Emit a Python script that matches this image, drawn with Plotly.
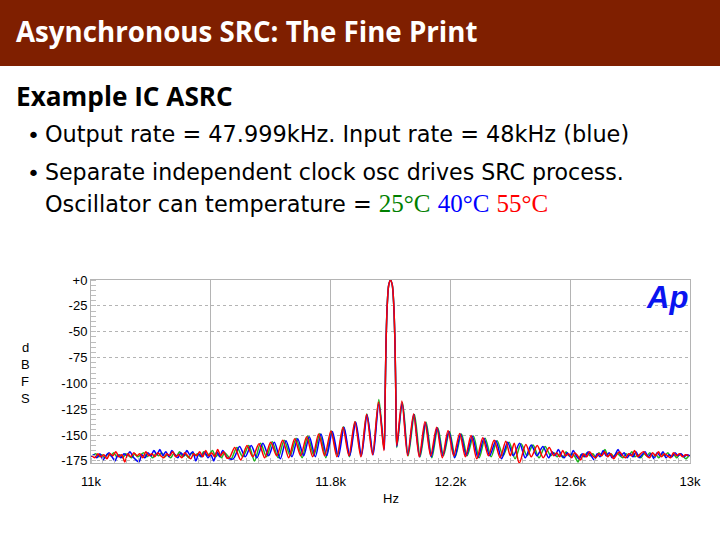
import plotly.graph_objects as go

# ---------------- data ----------------
BLUE_F = [11000, 11010, 11020, 11030, 11040, 11050, 11060, 11070, 11080, 11090,
          11100, 11110, 11120, 11130, 11140, 11150, 11160, 11170, 11180, 11190,
          11200, 11210, 11220, 11230, 11240, 11250, 11260, 11270, 11280, 11290,
          11300, 11310, 11320, 11330, 11340, 11350, 11360, 11370, 11380, 11390,
          11400, 11410, 11420, 11430, 11440, 11455,
          11475, 11496, 11515, 11535, 11554, 11574, 11593, 11612, 11632, 11651,
          11671, 11690, 11710, 11729, 11749, 11768, 11787, 11806, 11826, 11845,
          11864, 11884, 11903, 11922, 11942, 11961, 11979,
          11982, 11985, 11989, 11994, 12000, 12006, 12011, 12015, 12018, 12021,
          12039, 12058, 12078, 12097, 12117, 12136, 12156, 12175, 12195, 12214,
          12234, 12253, 12273, 12292, 12312, 12331, 12352, 12371, 12391, 12410,
          12431, 12450, 12470, 12489, 12509, 12528,
          12540, 12550, 12560, 12570, 12580, 12590, 12600, 12610, 12620, 12630,
          12640, 12650, 12660, 12670, 12680, 12690, 12700, 12710, 12720, 12730,
          12740, 12750, 12760, 12770, 12780, 12790, 12800, 12810, 12820, 12830,
          12840, 12850, 12860, 12870, 12880, 12890, 12900, 12910, 12920, 12930,
          12940, 12950, 12960, 12970, 12980, 12990, 13000]
BLUE_DB = [-171, -169, -172, -168, -174, -170, -167, -171, -175, -169,
           -172, -168, -170, -166, -171, -174, -176, -169, -172, -167,
           -170, -165, -169, -164, -170, -166, -171, -165, -169, -172,
           -167, -170, -165, -169, -166, -175, -168, -171, -166, -172,
           -169, -175, -166, -171, -165, -172,
           -173, -161, -171, -160, -172, -158, -170, -157, -173, -155.5,
           -171, -153.5, -170, -151.5, -171, -149, -170, -146.5, -171, -142.5,
           -170, -137.5, -170, -130.5, -169, -120, -164,
           -115, -62, -25, -5, 0, -5, -25, -62, -115, -161,
           -119, -169, -130, -171, -138, -171, -143, -170, -146.5, -172,
           -149, -170, -151, -172, -153, -170, -155.5, -173, -157, -170,
           -158, -172, -159.5, -170, -161, -172,
           -166, -170, -164, -169, -172, -167, -171, -165, -170, -173,
           -168, -171, -166, -170, -174, -168, -171, -165, -170, -167,
           -172, -169, -164, -170, -167, -172, -168, -171, -166, -172,
           -169, -166, -171, -168, -173, -167, -170, -166, -172, -169,
           -171, -167, -170, -168, -171, -169, -170]

RED_F = [11003, 11013, 11023, 11033, 11043, 11053, 11063, 11073, 11083, 11093,
         11103, 11113, 11123, 11133, 11143, 11153, 11163, 11173, 11183, 11193,
         11203, 11213, 11223, 11233, 11243, 11253, 11263, 11273, 11283, 11293,
         11303, 11313, 11323, 11333, 11343, 11353, 11363, 11373, 11383, 11393,
         11403, 11413, 11423, 11433, 11443, 11453,
         11462, 11480, 11500, 11521, 11540, 11561, 11580, 11600, 11620, 11640,
         11660, 11680, 11700, 11720, 11740, 11760, 11780, 11801, 11821, 11841,
         11861, 11881, 11901, 11920, 11940, 11960, 11978,
         11982, 11985, 11989, 11994, 12000, 12006, 12011, 12015, 12018, 12021,
         12038, 12057, 12077, 12096, 12115, 12134, 12154, 12173, 12192, 12211,
         12231, 12250, 12269, 12288, 12308, 12327, 12346, 12366, 12385, 12400,
         12413, 12430, 12452, 12470, 12490, 12510, 12530,
         12545, 12555, 12565, 12575, 12585, 12595, 12605, 12615, 12625, 12635,
         12645, 12655, 12665, 12675, 12685, 12695, 12705, 12715, 12725, 12735,
         12745, 12755, 12765, 12775, 12785, 12795, 12805, 12815, 12825, 12835,
         12845, 12855, 12865, 12875, 12885, 12895, 12905, 12915, 12925, 12935,
         12945, 12955, 12965, 12975, 12985, 12995]
RED_DB = [-170, -172, -168, -171, -169, -173, -168, -170, -166, -171,
          -169, -176, -168, -171, -167, -170, -168, -172, -166, -170,
          -168, -171, -167, -170, -172, -168, -170, -166, -171, -169,
          -172, -167, -170, -173, -168, -170, -166, -171, -165, -170,
          -167, -171, -164, -170, -166, -172,
          -172, -162, -174, -160, -171, -158.5, -172, -157, -170, -155,
          -172, -153.5, -170, -151.5, -171, -149, -170, -146, -171, -142.5,
          -170, -137, -171, -130, -169, -118, -165,
          -115, -62, -25, -5, 0, -5, -25, -62, -115, -160,
          -117, -170, -129.5, -171, -137, -170, -142.5, -172, -145.5, -170,
          -148.5, -171, -150.5, -173, -152.5, -170, -155, -172, -156, -170,
          -158, -177, -159, -171, -160, -172, -162,
          -170, -167, -171, -165, -170, -168, -172, -167, -170, -174,
          -168, -171, -166, -170, -172, -168, -170, -166, -171, -168,
          -173, -169, -166, -170, -172, -168, -170, -165, -171, -168,
          -166, -170, -172, -167, -170, -166, -171, -168, -170, -172,
          -167, -170, -168, -171, -169, -170]

GREEN_F = [11006, 11016, 11026, 11036, 11046, 11056, 11066, 11076, 11086, 11096,
           11106, 11116, 11126, 11136, 11146, 11156, 11166, 11176, 11186, 11196,
           11206, 11216, 11226, 11236, 11246, 11256, 11266, 11276, 11286, 11296,
           11306, 11316, 11326, 11336, 11346, 11356, 11366, 11376, 11386, 11396,
           11406, 11416, 11426, 11436, 11446, 11456,
           11468, 11487, 11507, 11527, 11546, 11566, 11586, 11605, 11625, 11645,
           11665, 11685, 11705, 11724, 11744, 11764, 11784, 11803, 11823, 11843,
           11863, 11882, 11902, 11921, 11941, 11961, 11978,
           11982, 11985, 11989, 11994, 12000, 12006, 12011, 12015, 12018, 12021,
           12040, 12059, 12080, 12099, 12119, 12138, 12158, 12177, 12197, 12216,
           12237, 12256, 12277, 12296, 12316, 12336, 12356, 12376, 12396, 12416,
           12436, 12456, 12476, 12496, 12516, 12535,
           12546, 12556, 12566, 12576, 12586, 12596, 12606, 12616, 12626, 12636,
           12646, 12656, 12666, 12676, 12686, 12696, 12706, 12716, 12726, 12736,
           12746, 12756, 12766, 12776, 12786, 12796, 12806, 12816, 12826, 12836,
           12846, 12856, 12866, 12876, 12886, 12896, 12906, 12916, 12926, 12936,
           12946, 12956, 12966, 12976, 12986, 12996]
GREEN_DB = [-170, -168, -171, -169, -172, -168, -170, -167, -171, -169,
            -172, -168, -170, -172, -168, -171, -169, -167, -171, -169,
            -172, -168, -170, -167, -171, -169, -172, -168, -170, -166,
            -171, -169, -172, -167, -170, -168, -171, -166, -170, -168,
            -165, -171, -168, -172, -167, -170,
            -173, -162, -171, -160, -175, -158, -171, -156.5, -172, -155,
            -170, -153, -172, -151, -170, -148.5, -172, -146, -170, -142,
            -171, -137, -170, -129.5, -168, -115.5, -163,
            -115, -62, -25, -5, 0, -5, -25, -62, -115, -162,
            -118.5, -170, -130, -171, -137.5, -172, -143, -170, -146.5, -171,
            -149, -170, -151, -172, -153, -171, -155.5, -170, -157, -173,
            -158.5, -170, -159.5, -172, -161, -170,
            -167, -171, -168, -172, -166, -170, -168, -171, -176, -169,
            -171, -167, -170, -168, -172, -167, -170, -164, -170, -168,
            -171, -167, -170, -172, -168, -170, -166, -171, -169, -172,
            -168, -170, -167, -171, -169, -172, -168, -170, -167, -171,
            -169, -172, -168, -170, -173, -170]

X_TICKS = [11000, 11400, 11800, 12200, 12600, 13000]
X_LABELS = ["11k", "11.4k", "11.8k", "12.2k", "12.6k", "13k"]
Y_TICKS = [0, -25, -50, -75, -100, -125, -150, -175]
Y_LABELS = ["+0", "-25", "-50", "-75", "-100", "-125", "-150", "-175"]
Y_TITLE = ["d", "B", "F", "S"]

W, H = 720, 540
def px(x):
    return x / W
def py(y):
    return 1 - y / H

fig = go.Figure()
for f, d, c in [(GREEN_F, GREEN_DB, "#1fb51f"), (BLUE_F, BLUE_DB, "#0000ff"), (RED_F, RED_DB, "#ff0000")]:
    fig.add_trace(go.Scatter(x=f, y=d, mode="lines",
                             line=dict(color=c, width=1.5, shape="spline", smoothing=0.8),
                             showlegend=False, hoverinfo="skip"))

grid_c = "#b4b4b4"
axfont = dict(family="Liberation Sans, Arial", size=13, color="black")
fig.update_xaxes(domain=[px(91), px(690)], range=[11000, 13000],
                 tickvals=X_TICKS, ticktext=X_LABELS,
                 showgrid=True, gridcolor=grid_c, gridwidth=1,
                 showline=True, linecolor=grid_c, mirror=True,
                 ticks="", zeroline=False, automargin=False, ticklabelstandoff=6,
                 minor=dict(dtick=40, tick0=11000, ticks="inside", ticklen=5,
                            tickcolor="#bdbdbd", showgrid=False),
                 tickfont=axfont)
fig.update_yaxes(domain=[py(463), py(280)], range=[-177, 0],
                 tickvals=Y_TICKS, ticktext=Y_LABELS,
                 showgrid=True, gridcolor=grid_c, griddash="dot", gridwidth=1,
                 showline=True, linecolor=grid_c, mirror=True,
                 ticks="", zeroline=False, automargin=False,
                 minor=dict(dtick=5, tick0=0, ticks="inside", ticklen=5,
                            tickcolor="#bdbdbd", showgrid=False),
                 tickfont=axfont)

# Title bar
fig.add_shape(type="rect", xref="paper", yref="paper", x0=0, x1=1, y0=py(66), y1=1,
              fillcolor="#7f1f00", line=dict(width=0), layer="below")

head = "Open Sans, Lato, sans-serif"
body = "DejaVu Sans, Open Sans, sans-serif"
ann = []
ann.append(dict(x=px(14), y=py(31), text="Asynchronous SRC: The Fine Print",
                font=dict(family=head, size=27.7, color="white", weight="bold"),
                xanchor="left", yanchor="middle"))
ann.append(dict(x=px(14), y=py(96), text="Example IC ASRC",
                font=dict(family=head, size=26.2, color="black", weight="bold"),
                xanchor="left", yanchor="middle"))
for yb in (135, 173):
    ann.append(dict(x=px(25), y=py(yb), text="•",
                    font=dict(family=body, size=22, color="black"),
                    xanchor="left", yanchor="middle"))
ann.append(dict(x=px(43), y=py(134), text="Output rate = 47.999kHz. Input rate = 48kHz (blue)",
                font=dict(family=body, size=22.4, color="black"),
                xanchor="left", yanchor="middle"))
ann.append(dict(x=px(43), y=py(172), text="Separate independent clock osc drives SRC process.",
                font=dict(family=body, size=22.1, color="black"),
                xanchor="left", yanchor="middle"))
ann.append(dict(x=px(43), y=py(203),
                text=("Oscillator can temperature = "
                      "<span style='color:#008000;font-family:Liberation Serif;font-size:25px'>25°C</span> "
                      "<span style='color:#0000ff;font-family:Liberation Serif;font-size:25px'>40°C</span> "
                      "<span style='color:#ff0000;font-family:Liberation Serif;font-size:25px'>55°C</span>"),
                font=dict(family=body, size=22.4, color="black"),
                xanchor="left", yanchor="middle"))
ann.append(dict(x=px(391), y=py(498), text="Hz", font=axfont,
                xanchor="center", yanchor="middle"))
for i, ch in enumerate(Y_TITLE):
    ann.append(dict(x=px(25), y=py(347 + 17 * i), text=ch, font=axfont,
                    xanchor="center", yanchor="middle"))
ann.append(dict(x=px(690), y=py(297), text="<b><i>Ap</i></b>",
                font=dict(family="Liberation Sans, Arial", size=31, color="#0a14f0"),
                xanchor="right", yanchor="middle"))
for a in ann:
    a.update(xref="paper", yref="paper", showarrow=False)
fig.update_layout(annotations=ann, width=W, height=H,
                  margin=dict(l=0, r=0, t=0, b=0, autoexpand=False),
                  paper_bgcolor="white", plot_bgcolor="white")

fig.write_html("out.html", config={"displayModeBar": False},
               post_script="document.body.style.margin='0';document.body.style.overflow='hidden';")
